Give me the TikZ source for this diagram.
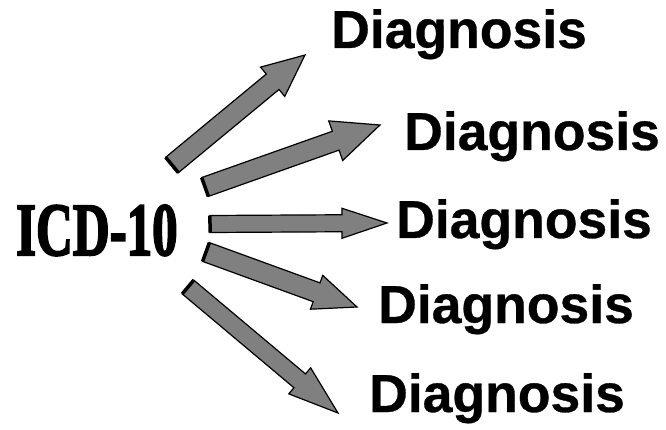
\documentclass[tikz,border=0pt]{standalone}
\usepackage{fontspec}
\usepackage{graphicx}
\setmainfont{Liberation Sans}
\newfontfamily\serifheavy[FakeBold=3]{Liberation Serif Bold}
\newfontfamily\sansheavy[FakeBold=0.6]{Liberation Sans Bold}
\usetikzlibrary{calc}
\tikzset{
  blockarrow/.style={fill=black!50, draw=black, line width=1.2pt, line join=miter},
  tailcap/.style={draw=black, line width=3.5pt},
  diag/.style={anchor=base west, inner sep=0pt, font=\sansheavy\fontsize{53.5}{53.5}\selectfont},
  icdstyle/.style={anchor=base west, inner sep=0pt, font=\serifheavy\fontsize{75}{75}\selectfont},
}
\newcommand\blockarr[5]{%
  \coordinate (#1-h) at ($(#2)!#5!(#1)$);
  \filldraw[blockarrow] ($(#1)!#3!90:(#2)$) -- ($(#1-h)!#3!90:(#2)$) -- ($(#1-h)!#4!90:(#2)$) -- (#2)
     -- ($(#1-h)!#4!-90:(#2)$) -- ($(#1-h)!#3!-90:(#2)$) -- ($(#1)!#3!-90:(#2)$) -- cycle;
  \draw[tailcap] ($(#1)!#3!90:(#2)$) -- ($(#1)!#3!-90:(#2)$);
}
\begin{document}
\begin{tikzpicture}[x=1pt,y=-1pt]
  \useasboundingbox (0,0) rectangle (666,430);
  \node[icdstyle] (icd) at (16,255) {\scalebox{0.68}[1]{ICD-10}};
  \node[diag] (d1) at (331,48) {Diagnosis};
  \node[diag] (d2) at (404,150) {Diagnosis};
  \node[diag] (d3) at (396,238) {Diagnosis};
  \node[diag] (d4) at (378,323) {Diagnosis};
  \node[diag] (d5) at (369,412) {Diagnosis};
  \coordinate (s1) at (172,165); \coordinate (e1) at (305,55);
  \coordinate (s2) at (205,187); \coordinate (e2) at (380,125);
  \coordinate (s3) at (210,224); \coordinate (e3) at (387,223);
  \coordinate (s4) at (206,252); \coordinate (e4) at (357,307);
  \coordinate (s5) at (188,287); \coordinate (e5) at (338,413);
  \blockarr{s1}{e1}{10pt}{19pt}{42pt}
  \blockarr{s2}{e2}{10pt}{21pt}{47pt}
  \blockarr{s3}{e3}{8.5pt}{15pt}{45pt}
  \blockarr{s4}{e4}{10pt}{18pt}{43pt}
  \blockarr{s5}{e5}{9pt}{17pt}{50pt}
\end{tikzpicture}
\end{document}
